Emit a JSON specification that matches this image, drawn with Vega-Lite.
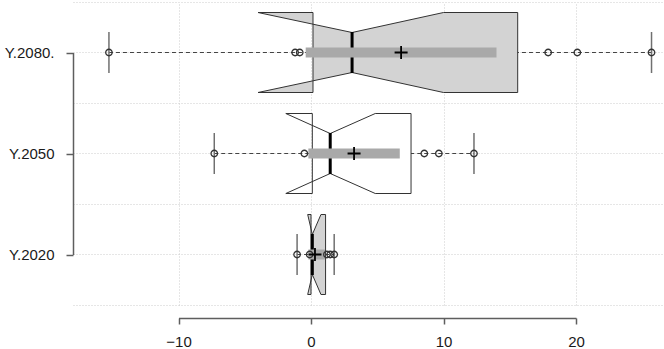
{
  "$schema": "https://vega.github.io/schema/vega-lite/v6.json",
  "width": 591,
  "height": 303,
  "autosize": {"type": "none"},
  "padding": {"left": 73, "top": 2, "right": 0, "bottom": 44},
  "background": "white",
  "config": {
    "view": {"stroke": null},
    "axis": {
      "labelFont": "Liberation Sans",
      "labelFontSize": 15,
      "labelColor": "#1a1a1a",
      "domainColor": "#5e5e5e",
      "tickColor": "#5e5e5e",
      "domainWidth": 1.5,
      "tickWidth": 1.5,
      "gridColor": "#cccccc",
      "gridDash": [1, 2],
      "gridWidth": 1,
      "title": null
    }
  },
  "datasets": {
    "stats": [
      {"g": "Y.2080.", "lo": -15.25, "hi": 25.7, "med": 3.1, "mean": 6.8, "clo": -0.4, "chi": 14.0},
      {"g": "Y.2050", "lo": -7.3, "hi": 12.3, "med": 1.45, "mean": 3.25, "clo": -0.2, "chi": 6.7},
      {"g": "Y.2020", "lo": -1.05, "hi": 1.75, "med": 0.1, "mean": 0.3, "clo": -0.2, "chi": 1.05}
    ],
    "pts": [
      {"g": "Y.2080.", "v": -15.25}, {"g": "Y.2080.", "v": -1.2}, {"g": "Y.2080.", "v": -0.85},
      {"g": "Y.2080.", "v": 17.9}, {"g": "Y.2080.", "v": 20.1}, {"g": "Y.2080.", "v": 25.7},
      {"g": "Y.2050", "v": -7.3}, {"g": "Y.2050", "v": -0.5}, {"g": "Y.2050", "v": 8.55},
      {"g": "Y.2050", "v": 9.65}, {"g": "Y.2050", "v": 12.3},
      {"g": "Y.2020", "v": -1.05}, {"g": "Y.2020", "v": -0.1}, {"g": "Y.2020", "v": 1.2},
      {"g": "Y.2020", "v": 1.45}, {"g": "Y.2020", "v": 1.75}
    ],
    "box": [
      {"g": "Y.2080.", "i": 1, "p": "t", "v": 0.15}, {"g": "Y.2080.", "i": 2, "p": "t", "v": -4.0},
      {"g": "Y.2080.", "i": 3, "p": "wt", "v": 3.1}, {"g": "Y.2080.", "i": 4, "p": "t", "v": 10.0},
      {"g": "Y.2080.", "i": 5, "p": "t", "v": 15.6}, {"g": "Y.2080.", "i": 6, "p": "b", "v": 15.6},
      {"g": "Y.2080.", "i": 7, "p": "b", "v": 10.0}, {"g": "Y.2080.", "i": 8, "p": "wb", "v": 3.1},
      {"g": "Y.2080.", "i": 9, "p": "b", "v": -4.0}, {"g": "Y.2080.", "i": 10, "p": "b", "v": 0.15},
      {"g": "Y.2050", "i": 1, "p": "t", "v": 0.1}, {"g": "Y.2050", "i": 2, "p": "t", "v": -1.9},
      {"g": "Y.2050", "i": 3, "p": "wt", "v": 1.45}, {"g": "Y.2050", "i": 4, "p": "t", "v": 4.85},
      {"g": "Y.2050", "i": 5, "p": "t", "v": 7.55}, {"g": "Y.2050", "i": 6, "p": "b", "v": 7.55},
      {"g": "Y.2050", "i": 7, "p": "b", "v": 4.85}, {"g": "Y.2050", "i": 8, "p": "wb", "v": 1.45},
      {"g": "Y.2050", "i": 9, "p": "b", "v": -1.9}, {"g": "Y.2050", "i": 10, "p": "b", "v": 0.1},
      {"g": "Y.2020", "i": 1, "p": "t", "v": 0.0}, {"g": "Y.2020", "i": 2, "p": "t", "v": -0.25},
      {"g": "Y.2020", "i": 3, "p": "wt", "v": 0.1}, {"g": "Y.2020", "i": 4, "p": "t", "v": 0.75},
      {"g": "Y.2020", "i": 5, "p": "t", "v": 1.1}, {"g": "Y.2020", "i": 6, "p": "b", "v": 1.1},
      {"g": "Y.2020", "i": 7, "p": "b", "v": 0.75}, {"g": "Y.2020", "i": 8, "p": "wb", "v": 0.1},
      {"g": "Y.2020", "i": 9, "p": "b", "v": -0.25}, {"g": "Y.2020", "i": 10, "p": "b", "v": 0.0}
    ]
  },
  "resolve": {"scale": {"y": "independent"}},
  "layer": [
    {
      "data": {"name": "stats"},
      "mark": {"type": "point", "opacity": 0},
      "encoding": {
        "x": {
          "field": "lo", "type": "quantitative",
          "scale": {"domain": [-10, 20], "range": [105.5, 503], "nice": false, "zero": false},
          "axis": {"values": [-10, 0, 10, 20], "offset": 13, "grid": true, "tickSize": 6, "labelPadding": 10, "labelFlush": false, "title": null}
        },
        "y": {
          "field": "g", "type": "nominal",
          "scale": {"type": "band", "domain": ["Y.2080.", "Y.2050", "Y.2020"], "paddingInner": 0, "paddingOuter": 0},
          "axis": null
        }
      }
    },
    {
      "data": {"name": "stats"},
      "mark": {"type": "rule", "strokeOpacity": 0},
      "encoding": {
        "y": {
          "field": "g", "type": "nominal",
          "scale": {"type": "band", "domain": ["Y.2080.", "Y.2050", "Y.2020"], "paddingInner": 0, "paddingOuter": 0},
          "axis": {"orient": "left", "grid": true, "tickBand": "extent", "labels": false, "ticks": false, "domain": false, "title": null}
        }
      }
    },
    {
      "data": {"name": "stats"},
      "mark": {"type": "rule", "strokeOpacity": 0},
      "encoding": {
        "y": {
          "field": "g", "type": "nominal",
          "scale": {"type": "band", "domain": ["Y.2080.", "Y.2050", "Y.2020"], "paddingInner": 0, "paddingOuter": 0},
          "axis": {"orient": "left", "grid": true, "labels": false, "ticks": false, "domain": false, "title": null}
        }
      }
    },
    {
      "layer": [
        {
          "data": {"name": "stats"},
          "mark": {"type": "rule", "color": "#444444", "strokeDash": [4, 3], "strokeWidth": 1},
          "encoding": {
            "x": {"field": "lo", "type": "quantitative"},
            "x2": {"field": "hi"},
            "y": {
              "field": "g", "type": "nominal",
              "scale": {"type": "point", "domain": ["Y.2080.", "Y.2050", "Y.2020"], "range": [50.5, 252.5], "padding": 0},
              "axis": {"orient": "left", "grid": false, "tickSize": 7, "labelPadding": 12, "title": null}
            }
          }
        },
        {
          "data": {"name": "box"},
          "mark": {"type": "line", "interpolate": "linear-closed", "stroke": "#333333", "strokeWidth": 1},
          "encoding": {
            "x": {"field": "v", "type": "quantitative"},
            "y": {"field": "g", "type": "nominal"},
            "yOffset": {"field": "p", "type": "nominal", "scale": {"type": "point", "domain": ["t", "wt", "m", "wb", "b"], "range": [-40, 40], "padding": 0}},
            "order": {"field": "i", "type": "quantitative"},
            "detail": {"field": "g"},
            "fill": {"field": "g", "type": "nominal", "scale": {"domain": ["Y.2080.", "Y.2050", "Y.2020"], "range": ["#d3d3d3", "#ffffff", "#d3d3d3"]}, "legend": null}
          }
        },
        {
          "data": {"name": "stats"},
          "mark": {"type": "tick", "color": "#000000", "thickness": 3, "size": 41, "opacity": 1},
          "encoding": {
            "x": {"field": "med", "type": "quantitative"},
            "y": {"field": "g", "type": "nominal"}
          }
        },
        {
          "data": {"name": "stats"},
          "mark": {"type": "rule", "color": "#a9a9a9", "strokeWidth": 10, "strokeCap": "butt"},
          "encoding": {
            "x": {"field": "clo", "type": "quantitative"},
            "x2": {"field": "chi"},
            "y": {"field": "g", "type": "nominal"}
          }
        },
        {
          "data": {"name": "stats"},
          "transform": [{"fold": ["lo", "hi"], "as": ["end", "val"]}],
          "mark": {"type": "tick", "color": "#707070", "thickness": 1.5, "size": 41, "opacity": 1},
          "encoding": {
            "x": {"field": "val", "type": "quantitative"},
            "y": {"field": "g", "type": "nominal"}
          }
        },
        {
          "data": {"name": "pts"},
          "mark": {"type": "point", "shape": "circle", "filled": false, "color": "#333333", "strokeWidth": 1.3, "size": 42, "opacity": 1},
          "encoding": {
            "x": {"field": "v", "type": "quantitative"},
            "y": {"field": "g", "type": "nominal"}
          }
        },
        {
          "data": {"name": "stats"},
          "mark": {"type": "point", "shape": "M-1,0H1M0,-1V1", "filled": false, "color": "#000000", "strokeWidth": 1.8, "size": 169, "opacity": 1},
          "encoding": {
            "x": {"field": "mean", "type": "quantitative"},
            "y": {"field": "g", "type": "nominal"}
          }
        }
      ]
    }
  ]
}
